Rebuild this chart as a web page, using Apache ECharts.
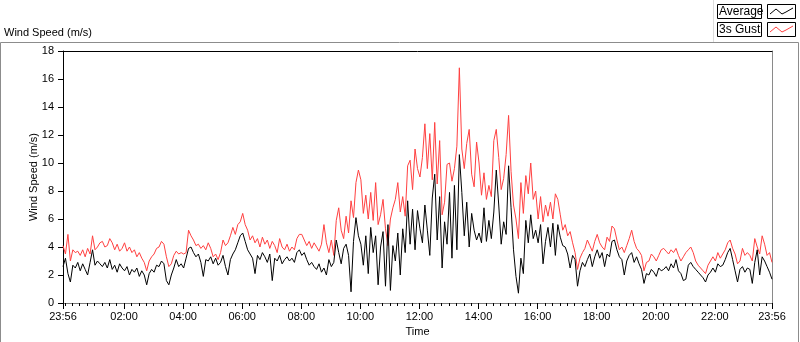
<!DOCTYPE html>
<html lang="en">
<head>
    <meta charset="utf-8" />
    <title>Wind Speed (m/s)</title>
    <script src="https://cdn.jsdelivr.net/npm/echarts@6.0.0/dist/echarts.min.js"></script>
    <style>
        html, body {
            margin: 0;
            padding: 0;
            background-color: #fff;
        }
        #main {
            width: 800px;
            height: 342px;
        }
    </style>
</head>
<body>
<div id="main"></div>
<script>
    // one sample every 5 minutes, the first one at 23:56 of the day before
    let startMinute = -4
    let stepMinutes = 5

    let gustSpeed = [
        4.1, 3.5, 4.9, 3.0, 3.8, 3.6, 3.7, 3.4, 3.8, 3.3, 3.9, 3.5, 4.8, 3.8, 4.0, 4.3, 4.4, 4.0, 4.1, 4.6, 4.3, 3.8, 4.2, 3.7, 3.9,
        4.3, 3.7, 4.0, 3.6, 3.8, 3.3, 3.6, 3.2, 2.9, 2.3, 3.0, 3.3, 3.5, 3.9, 4.0, 4.4, 4.2, 3.3, 2.6, 2.8, 3.4, 3.7, 3.5, 3.6,
        3.5, 3.6, 5.2, 4.8, 4.5, 4.1, 4.2, 3.9, 4.1, 3.8, 4.3, 3.9, 3.3, 3.5, 3.1, 3.6, 4.5, 4.1, 4.3, 4.8, 5.4, 4.9, 5.6, 5.8,
        6.4, 5.6, 5.2, 4.5, 4.8, 4.3, 4.6, 4.0, 4.7, 4.2, 4.5, 3.9, 4.4, 4.1, 3.6, 4.6, 4.0, 3.8, 4.2, 3.7, 4.0, 3.8, 4.6, 4.9,
        4.9, 4.5, 4.1, 4.4, 3.9, 4.3, 4.0, 3.7, 4.2, 5.6, 4.3, 3.6, 4.5, 3.4, 5.9, 6.8, 5.2, 4.6, 6.2, 5.0, 7.3, 6.1, 8.6, 9.5,
        8.8, 6.4, 7.7, 6.0, 7.9, 5.9, 8.6, 5.6, 6.3, 7.4, 5.3, 4.1, 6.0, 6.8, 7.4, 8.6, 6.5, 7.6, 6.2, 9.8, 10.2, 8.1, 11.0, 9.6,
        9.0, 10.4, 12.8, 9.6, 12.1, 8.8, 12.9, 8.5, 11.6, 6.3, 7.2, 9.9, 10.0, 8.7, 9.6, 11.2, 16.8, 11.0, 9.6, 11.4, 12.4, 9.2, 8.3, 11.5,
        10.0, 7.7, 9.3, 7.4, 8.4, 7.6, 11.6, 12.4, 10.4, 8.1, 8.9, 10.6, 13.4, 9.4, 7.0, 6.0, 4.6, 8.6, 6.4, 9.1, 7.8, 10.0, 7.4, 8.0,
        6.0, 7.6, 5.8, 7.0, 6.2, 7.2, 6.0, 7.8, 7.4, 6.3, 5.2, 5.6, 4.8, 5.1, 4.3, 3.6, 2.4, 3.2, 3.6, 3.9, 4.5, 4.1, 3.7, 4.4,
        4.9, 4.3, 4.0, 3.8, 4.7, 4.4, 5.5, 5.3, 4.5, 3.8, 4.0, 3.6, 4.1, 4.6, 5.2, 4.4, 3.9, 3.7, 3.4, 2.3, 2.9, 3.0, 3.5, 3.3,
        3.0, 3.4, 3.8, 3.9, 3.7, 3.5, 3.8, 3.6, 3.9, 3.4, 3.0, 3.3, 3.6, 3.8, 4.0, 3.6, 3.0, 2.7, 2.5, 2.3, 2.1, 2.7, 3.0, 3.3,
        3.0, 3.6, 3.2, 3.5, 3.8, 4.3, 4.5, 3.9, 3.5, 2.8, 3.0, 3.9, 3.4, 3.6, 3.4, 3.0, 4.6, 4.0, 3.5, 4.8, 4.2, 3.4, 3.6, 2.9
    ]

    let avgSpeed = [
        2.6, 3.2, 2.1, 1.5, 2.7, 2.5, 2.9, 2.3, 2.8, 2.4, 2.0, 2.9, 3.8, 2.7, 3.0, 2.8, 2.6, 2.9, 2.5, 3.1, 2.4, 2.7, 2.2, 2.8, 2.5,
        2.3, 2.6, 2.0, 2.4, 2.2, 2.5, 1.9, 2.3, 2.0, 1.3, 2.1, 2.4, 2.2, 2.7, 2.6, 3.0, 2.8, 1.6, 1.3, 2.0, 2.5, 3.1, 2.6, 2.8,
        2.5, 3.2, 3.9, 4.0, 3.6, 3.3, 3.5, 2.9, 1.9, 3.1, 3.0, 3.3, 2.8, 3.2, 2.7, 2.9, 3.4, 2.6, 2.0, 3.1, 3.5, 3.8, 4.3, 4.8,
        5.0, 4.4, 3.8, 3.5, 3.2, 2.1, 3.4, 3.1, 3.6, 3.3, 2.9, 3.5, 1.6, 3.2, 3.0, 3.4, 2.8, 3.1, 3.3, 3.0, 3.2, 2.9, 3.6, 3.8,
        3.4, 3.6, 3.1, 2.7, 2.9, 2.6, 2.4, 2.8, 2.2, 2.5, 2.0, 3.1, 2.6, 2.9, 4.5, 3.6, 2.8, 3.9, 4.2, 3.4, 0.8, 4.4, 6.1, 4.8,
        4.2, 2.7, 4.8, 2.1, 5.4, 3.6, 4.8, 1.3, 4.0, 5.1, 1.2, 5.6, 0.9, 4.1, 3.0, 5.0, 2.0, 5.3, 3.6, 7.3, 4.2, 6.7, 3.8, 6.6,
        5.3, 4.3, 7.0, 5.2, 3.4, 7.5, 9.2, 4.5, 7.6, 2.5, 5.8, 4.2, 7.9, 3.2, 8.4, 3.8, 10.6, 7.9, 4.8, 7.2, 4.0, 6.4, 5.2, 4.5,
        5.0, 4.3, 6.8, 4.4, 5.9, 4.6, 6.5, 9.5, 7.0, 4.2, 5.8, 4.9, 9.8, 6.8, 3.8, 1.9, 0.7, 3.2, 2.1, 5.9, 4.3, 6.3, 4.6, 5.2,
        4.3, 5.6, 2.8, 4.4, 5.4, 4.0, 5.7, 3.4, 5.6, 4.7, 4.1, 4.0, 3.5, 2.5, 3.4, 3.1, 1.2, 2.3, 2.9, 2.6, 3.1, 3.5, 2.6, 3.3,
        3.8, 3.2, 3.6, 2.6, 3.5, 3.3, 4.4, 4.5, 3.8, 3.3, 3.1, 2.0, 3.0, 3.4, 3.6, 2.9, 3.3, 2.8, 2.4, 1.4, 2.1, 2.0, 2.4, 2.2,
        1.9, 2.5, 2.3, 2.4, 2.6, 2.3, 2.8, 2.5, 3.1, 2.3, 2.1, 1.6, 1.7, 2.7, 2.9, 2.6, 2.4, 2.2, 2.0, 1.8, 1.5, 2.0, 2.2, 2.5,
        2.2, 2.8, 2.6, 2.7, 3.1, 3.6, 3.9, 3.1, 2.3, 1.5, 2.4, 2.6, 2.2, 2.5, 2.4, 1.4, 2.9, 3.8, 2.0, 3.3, 3.0, 2.6, 2.2, 1.7
    ]

    let tickMinutes = [-4, 120, 240, 360, 480, 600, 720, 840, 960, 1080, 1200, 1320, 1436]
    let tickLabels = ['23:56', '02:00', '04:00', '06:00', '08:00', '10:00', '12:00', '14:00', '16:00', '18:00', '20:00', '22:00', '23:56']

    let fontName = '"Liberation Sans", Arial, sans-serif'
    let redColor = '#ff4040'

    // plot box in pixels
    let plotLeft = 63
    let plotRight = 772
    // the quarter hour ticks live on a second grid that starts at 00:00,
    // so its min (0) is a multiple of the 15 minute interval
    let pxPerMinute = (plotRight - plotLeft) / 1440
    let minorLeft = plotLeft + 4 * pxPerMinute

    function toPairs(values) {
        return values.map(function (v, i) {
            return [startMinute + i * stepMinutes, v]
        })
    }

    let chart = echarts.init(document.getElementById('main'), null, {renderer: 'canvas'})

    chart.setOption({
        animation: false,
        backgroundColor: '#fff',
        textStyle: {
            fontFamily: fontName
        },
        grid: [
            {
                left: plotLeft,
                top: 51,
                right: 800 - plotRight,
                bottom: 39,
                containLabel: false,
                outerBoundsMode: 'none'
            },
            {
                left: minorLeft,
                top: 51,
                right: 800 - plotRight,
                bottom: 39,
                containLabel: false,
                outerBoundsMode: 'none'
            }
        ],
        xAxis: [
            {
                type: 'value',
                gridIndex: 0,
                min: -4,
                max: 1436,
                position: 'bottom',
                name: 'Time',
                nameLocation: 'middle',
                nameGap: 23,
                nameMoveOverlap: false,
                nameTextStyle: {
                    color: '#000',
                    fontSize: 11,
                    fontFamily: fontName
                },
                axisLine: {
                    show: true,
                    onZero: false,
                    lineStyle: {color: '#7a7a7a', width: 1}
                },
                axisTick: {
                    show: true,
                    customValues: tickMinutes,
                    length: 6,
                    lineStyle: {color: '#000'}
                },
                axisLabel: {
                    customValues: tickMinutes,
                    showMinLabel: true,
                    showMaxLabel: true,
                    margin: 8,
                    color: '#000',
                    fontSize: 11,
                    fontFamily: fontName,
                    formatter: function (v) {
                        let k = tickMinutes.indexOf(v)
                        return k >= 0 ? tickLabels[k] : ''
                    }
                },
                splitLine: {show: false}
            },
            {
                type: 'value',
                gridIndex: 0,
                min: -4,
                max: 1436,
                position: 'top',
                axisLine: {
                    show: true,
                    onZero: false,
                    lineStyle: {color: '#000', width: 1}
                },
                axisTick: {show: false},
                axisLabel: {show: false},
                splitLine: {show: false}
            },
            {
                type: 'value',
                gridIndex: 1,
                min: 0,
                max: 1436,
                interval: 15,
                position: 'bottom',
                axisLine: {show: false, onZero: false},
                axisTick: {
                    show: true,
                    length: 3,
                    lineStyle: {color: '#000'}
                },
                axisLabel: {show: false},
                splitLine: {show: false}
            }
        ],
        yAxis: [
            {
                type: 'value',
                gridIndex: 0,
                min: 0,
                max: 18,
                interval: 2,
                position: 'left',
                name: 'Wind Speed (m/s)',
                nameLocation: 'middle',
                nameRotate: 90,
                nameGap: 24,
                nameMoveOverlap: false,
                nameTextStyle: {
                    color: '#000',
                    fontSize: 11,
                    fontFamily: fontName
                },
                axisLine: {
                    show: true,
                    onZero: false,
                    lineStyle: {color: '#000', width: 1}
                },
                axisTick: {
                    show: true,
                    length: 5,
                    lineStyle: {color: '#000'}
                },
                axisLabel: {
                    margin: 9,
                    color: '#000',
                    fontSize: 11,
                    fontFamily: fontName
                },
                splitLine: {show: false}
            },
            {
                type: 'value',
                gridIndex: 0,
                min: 0,
                max: 18,
                position: 'right',
                axisLine: {
                    show: true,
                    onZero: false,
                    lineStyle: {color: '#8a8a8a', width: 1}
                },
                axisTick: {show: false},
                axisLabel: {show: false},
                splitLine: {show: false}
            },
            {
                type: 'value',
                gridIndex: 1,
                min: 0,
                max: 18,
                show: false
            }
        ],
        series: [
            {
                name: '3s Gust',
                type: 'line',
                xAxisIndex: 0,
                yAxisIndex: 0,
                showSymbol: false,
                lineStyle: {color: redColor, width: 1},
                data: toPairs(gustSpeed)
            },
            {
                name: 'Average',
                type: 'line',
                xAxisIndex: 0,
                yAxisIndex: 0,
                showSymbol: false,
                lineStyle: {color: '#000', width: 1},
                data: toPairs(avgSpeed)
            }
        ],
        graphic: [
            {
                type: 'rect',
                shape: {x: 0.5, y: 42.5, width: 798, height: 320},
                style: {fill: 'none', stroke: '#8c8c8c', lineWidth: 1},
                silent: true
            },
            {
                type: 'line',
                shape: {x1: 713.5, y1: 0, x2: 713.5, y2: 42},
                style: {stroke: '#dcdcdc', lineWidth: 1},
                silent: true
            },
            {
                type: 'text',
                x: 4,
                y: 33,
                style: {
                    text: 'Wind Speed (m/s)',
                    font: '11px ' + fontName,
                    fill: '#000',
                    verticalAlign: 'middle'
                },
                silent: true
            },
            // legend: Average
            {
                type: 'rect',
                shape: {x: 717.5, y: 4.5, width: 44, height: 14},
                style: {fill: '#fff', stroke: '#000', lineWidth: 1},
                silent: true
            },
            {
                type: 'text',
                x: 719,
                y: 12,
                style: {
                    text: 'Average',
                    font: '12px ' + fontName,
                    fill: '#000',
                    verticalAlign: 'middle'
                },
                silent: true
            },
            {
                type: 'rect',
                shape: {x: 767.5, y: 4.5, width: 28, height: 14},
                style: {fill: '#fff', stroke: '#000', lineWidth: 1},
                silent: true
            },
            {
                type: 'polyline',
                shape: {points: [[770, 14], [776, 9], [782, 14], [786, 12], [793, 8]]},
                style: {stroke: '#000', lineWidth: 1, fill: 'none'},
                silent: true
            },
            // legend: 3s Gust
            {
                type: 'rect',
                shape: {x: 717.5, y: 22.5, width: 44, height: 14},
                style: {fill: '#fff', stroke: '#000', lineWidth: 1},
                silent: true
            },
            {
                type: 'text',
                x: 719,
                y: 30,
                style: {
                    text: '3s Gust',
                    font: '12px ' + fontName,
                    fill: '#000',
                    verticalAlign: 'middle'
                },
                silent: true
            },
            {
                type: 'rect',
                shape: {x: 767.5, y: 22.5, width: 28, height: 14},
                style: {fill: '#fff', stroke: '#000', lineWidth: 1},
                silent: true
            },
            {
                type: 'polyline',
                shape: {points: [[770, 32], [776, 27], [782, 32], [786, 30], [793, 26]]},
                style: {stroke: redColor, lineWidth: 1, fill: 'none'},
                silent: true
            }
        ]
    })
</script>
</body>
</html>
